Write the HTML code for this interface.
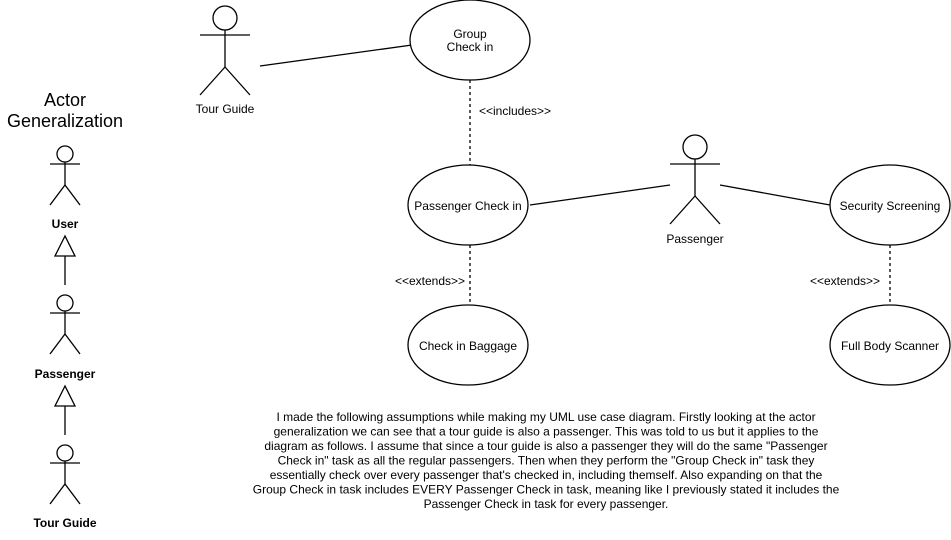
<!DOCTYPE html>
<html><head><style>
body{margin:0;background:#fff}
svg text{font-family:"Liberation Sans",Arial,sans-serif;fill:#000}
</style></head><body>
<svg width="951" height="535" viewBox="0 0 951 535" xmlns="http://www.w3.org/2000/svg">
<g stroke="#000" stroke-width="1.3" fill="none">
<circle cx="225" cy="18" r="12" fill="#fff"/>
<line x1="225" y1="30" x2="225" y2="67"/>
<line x1="200" y1="35" x2="250" y2="35"/>
<line x1="225" y1="67" x2="200" y2="95"/><line x1="225" y1="67" x2="250" y2="95"/>
<line x1="260" y1="66" x2="412" y2="45"/>
<ellipse cx="470" cy="40" rx="60" ry="40" fill="#fff"/>
<line x1="470" y1="80" x2="470" y2="165" stroke-dasharray="3,3"/>
<ellipse cx="468" cy="205" rx="60" ry="40" fill="#fff"/>
<line x1="530" y1="205" x2="670" y2="185"/>
<circle cx="695" cy="147" r="12" fill="#fff"/>
<line x1="695" y1="159" x2="695" y2="196"/>
<line x1="670" y1="164" x2="720" y2="164"/>
<line x1="695" y1="196" x2="670" y2="224"/><line x1="695" y1="196" x2="720" y2="224"/>
<line x1="720" y1="185" x2="830" y2="205"/>
<ellipse cx="890" cy="205" rx="60" ry="40" fill="#fff"/>
<line x1="890" y1="245" x2="890" y2="305" stroke-dasharray="3,3"/>
<ellipse cx="890" cy="345" rx="60" ry="40" fill="#fff"/>
<line x1="470" y1="245" x2="470" y2="305" stroke-dasharray="3,3"/>
<ellipse cx="468" cy="345" rx="60" ry="40" fill="#fff"/>
<g>
<circle cx="65" cy="154" r="8" fill="#fff"/>
<line x1="65" y1="162" x2="65" y2="185"/>
<line x1="50" y1="164" x2="80" y2="164"/>
<line x1="65" y1="185" x2="50" y2="205"/><line x1="65" y1="185" x2="80" y2="205"/>
</g>
<polygon points="65,236 55,256 75,256" fill="#fff"/>
<line x1="65" y1="256" x2="65" y2="285"/>
<g transform="translate(0,149)">
<circle cx="65" cy="154" r="8" fill="#fff"/>
<line x1="65" y1="162" x2="65" y2="185"/>
<line x1="50" y1="164" x2="80" y2="164"/>
<line x1="65" y1="185" x2="50" y2="205"/><line x1="65" y1="185" x2="80" y2="205"/>
</g>
<polygon points="65,386 55,406 75,406" fill="#fff"/>
<line x1="65" y1="406" x2="65" y2="435"/>
<g transform="translate(0,299)">
<circle cx="65" cy="154" r="8" fill="#fff"/>
<line x1="65" y1="162" x2="65" y2="185"/>
<line x1="50" y1="164" x2="80" y2="164"/>
<line x1="65" y1="185" x2="50" y2="205"/><line x1="65" y1="185" x2="80" y2="205"/>
</g>
</g>
<g font-size="12" text-anchor="middle">
<text x="225" y="113">Tour Guide</text>
<text x="470" y="38">Group</text>
<text x="470" y="51">Check in</text>
<text x="515" y="115">&lt;&lt;includes&gt;&gt;</text>
<text x="468" y="210">Passenger Check in</text>
<text x="695" y="243">Passenger</text>
<text x="890" y="210">Security Screening</text>
<text x="845" y="285">&lt;&lt;extends&gt;&gt;</text>
<text x="890" y="350">Full Body Scanner</text>
<text x="430" y="285">&lt;&lt;extends&gt;&gt;</text>
<text x="468" y="350">Check in Baggage</text>
<text x="65" y="228" font-weight="bold">User</text>
<text x="65" y="378" font-weight="bold">Passenger</text>
<text x="65" y="527" font-weight="bold">Tour Guide</text>
</g>
<g font-size="18" text-anchor="middle">
<text x="65" y="106">Actor</text>
<text x="65" y="127">Generalization</text>
</g>
<g font-size="12" text-anchor="middle">
<text x="546" y="421">I made the following assumptions while making my UML use case diagram. Firstly looking at the actor</text>
<text x="546" y="435.5">generalization we can see that a tour guide is also a passenger. This was told to us but it applies to the</text>
<text x="546" y="450">diagram as follows. I assume that since a tour guide is also a passenger they will do the same "Passenger</text>
<text x="546" y="464.5">Check in" task as all the regular passengers. Then when they perform the "Group Check in" task they</text>
<text x="546" y="479">essentially check over every passenger that's checked in, including themself. Also expanding on that the</text>
<text x="546" y="493.5">Group Check in task includes EVERY Passenger Check in task, meaning like I previously stated it includes the</text>
<text x="546" y="508">Passenger Check in task for every passenger.</text>
</g>
</svg>
</body></html>
